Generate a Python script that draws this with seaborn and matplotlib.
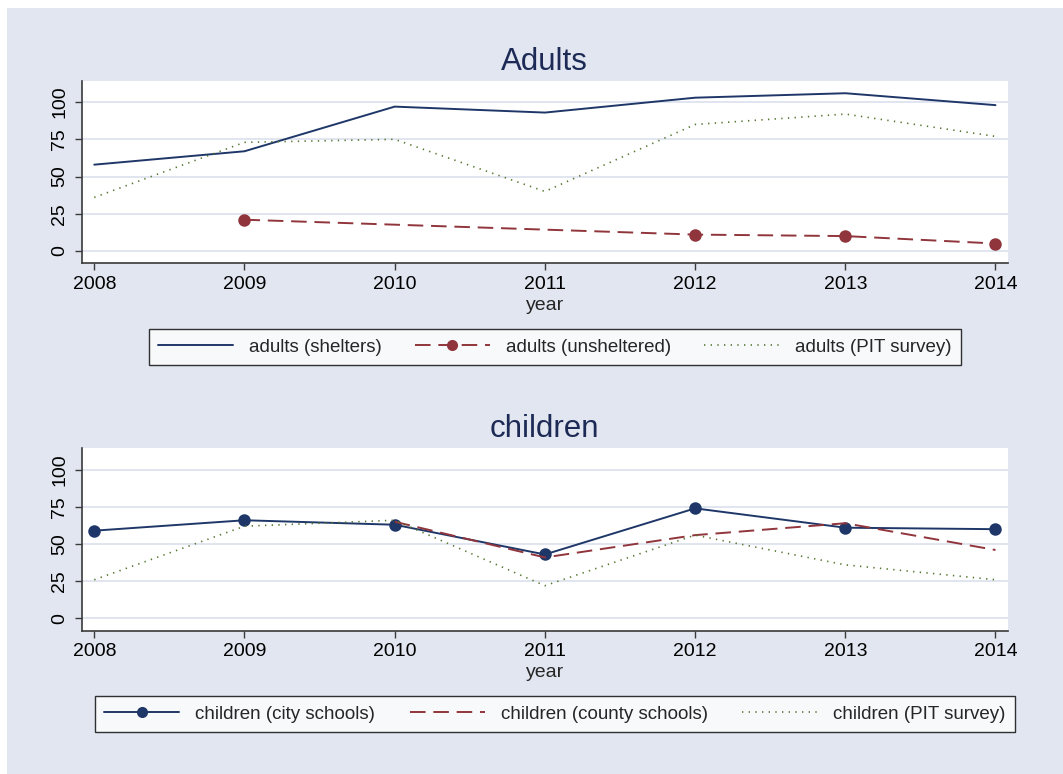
import matplotlib
matplotlib.use("Agg")
import matplotlib.pyplot as plt
from matplotlib.patches import Rectangle
from matplotlib.lines import Line2D
import numpy as np
import pandas as pd
import seaborn as sns

# values
years = [2008, 2009, 2010, 2011, 2012, 2013, 2014]
adults_shelters = [58, 67, 97, 93, 103, 106, 98]
adults_unsheltered = [np.nan, 21, np.nan, np.nan, 11, 10, 5]
adults_pit = [36, 73, 75, 40, 85, 92, 77]
children_city = [59, 66, 63, 43, 74, 61, 60]
children_county = [np.nan, np.nan, 65, 41, 56, 64, 46]
children_pit = [26, 62, 66, 22, 56, 36, 26]

labels_adults = ["adults (shelters)", "adults (unsheltered)", "adults (PIT survey)"]
labels_children = ["children (city schools)", "children (county schools)", "children (PIT survey)"]

navy = "#1f3768"
maroon = "#90353b"
green = "#55752f"
bg = "#e1e6f0"
grid = "#dde3ef"

sns.set_style("ticks")
plt.rcParams["font.family"] = ["Liberation Sans", "DejaVu Sans"]

fig = plt.figure(figsize=(10.63, 7.74), dpi=100)
fig.patch.set_facecolor("white")
fig.add_artist(Rectangle((7 / 1063, 0), 1, 1 - 8 / 774, transform=fig.transFigure,
                         facecolor=bg, edgecolor="none", zorder=-1))

ax1 = fig.add_axes([0.0771, 0.6598, 0.8707, 0.2359])
ax2 = fig.add_axes([0.0771, 0.1851, 0.8707, 0.2357])

styles = [
    dict(color=navy, lw=1.4, ls="-"),
    dict(color=maroon, lw=1.4, ls=(0, (8, 4))),
    dict(color=green, lw=1.2, ls=(0, (0.8, 3.2))),
]


def draw(ax, series, marks, labels, title, legend_y, colsp):
    for vals, st, mk in zip(series, styles, marks):
        d = pd.DataFrame({"year": years, "v": vals}).dropna()
        sns.lineplot(data=d, x="year", y="v", ax=ax, marker="o" if mk else None,
                     markersize=9, markeredgewidth=0, markerfacecolor=st["color"],
                     **st)
    ax.set_xlim(2007.918, 2014.08)
    ax.set_ylim(-8.3, 114.4)
    ax.set_xticks(years)
    ax.set_yticks([0, 25, 50, 75, 100])
    ax.yaxis.grid(True, color=grid, lw=1.3)
    ax.set_axisbelow(True)
    ax.set_facecolor("white")
    for s in ["top", "right"]:
        ax.spines[s].set_visible(False)
    for s in ["left", "bottom"]:
        ax.spines[s].set_color("#3a3a3a")
        ax.spines[s].set_linewidth(1.2)
    ax.tick_params(axis="both", direction="out", length=5, width=1, color="#3a3a3a",
                   labelsize=14, labelcolor="black")
    ax.tick_params(axis="x", pad=4)
    ax.tick_params(axis="y", pad=5)
    for t in ax.get_yticklabels():
        t.set_rotation(90)
        t.set_va("center")
    ax.set_xlabel("year", fontsize=14, labelpad=3)
    ax.set_ylabel("")
    ax.set_title(title, fontsize=22.5, color="#1c2a55", pad=8)
    handles = [Line2D([], [], marker="o" if mk else None, markersize=8,
                      markeredgewidth=0, markerfacecolor=st["color"], **st)
               for st, mk in zip(styles, marks)]
    leg = ax.legend(handles, labels, ncol=3, loc="center",
                    bbox_to_anchor=(0.522, legend_y), bbox_transform=fig.transFigure,
                    frameon=True, fancybox=False, fontsize=13.5, handlelength=4.0,
                    columnspacing=colsp, handletextpad=0.85, borderpad=0.5,
                    borderaxespad=0)
    leg.get_frame().set_edgecolor("black")
    leg.get_frame().set_linewidth(1)
    leg.get_frame().set_facecolor("white")


draw(ax1, [adults_shelters, adults_unsheltered, adults_pit], [False, True, False],
     labels_adults, "Adults", 1 - 347 / 774, 1.75)
draw(ax2, [children_city, children_county, children_pit], [True, False, False],
     labels_children, "children", 1 - 714 / 774, 1.85)

fig.savefig("out.png", dpi=100)
